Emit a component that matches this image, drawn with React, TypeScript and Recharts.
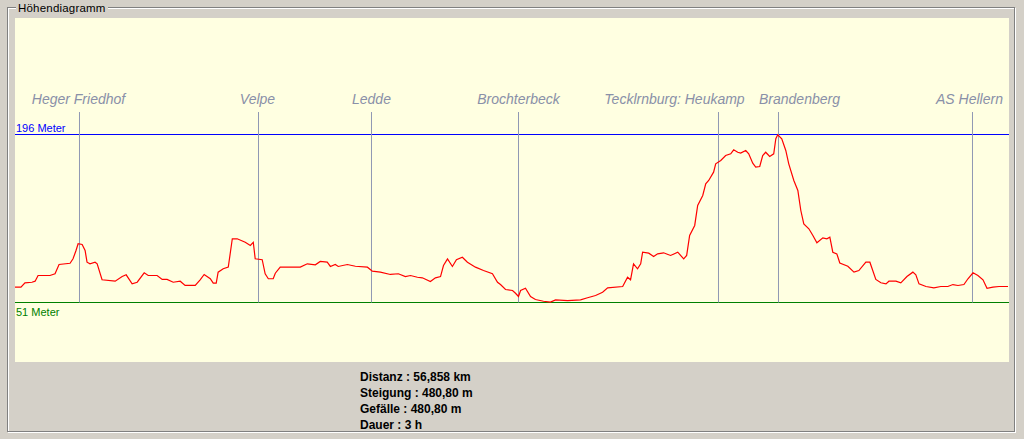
import React from 'react';
import { LineChart, Line, XAxis, YAxis, ReferenceLine } from 'recharts';

// Distance along the route (km) and elevation (m)
const distanceKm = [
  0, 0.34, 0.57, 0.97, 1.15, 1.32, 2.0, 2.29, 2.52, 3.15, 3.32, 3.49, 3.61, 3.84, 4.01, 4.12, 4.29, 4.58, 4.7, 4.98,
  5.73, 6.13, 6.36, 6.7, 6.99, 7.39, 7.62, 8.13, 8.42, 8.7, 9.05, 9.45, 9.73, 10.31, 10.59, 10.82, 11.17, 11.34, 11.51, 11.62,
  11.91, 12.2, 12.43, 12.71, 13.17, 13.46, 13.63, 13.74, 14.14, 14.31, 14.49, 14.77, 14.89, 15.17, 16.32, 16.72, 17.18, 17.46, 17.86, 18.04,
  18.32, 18.49, 19.01, 19.47, 20.16, 20.44, 20.9, 21.47, 21.93, 22.33, 22.62, 23.02, 23.3, 23.76, 24.05, 24.34, 24.51, 24.74, 25.02, 25.25,
  25.59, 25.88, 26.34, 26.8, 27.31, 27.6, 27.77, 28.06, 28.46, 28.63, 28.8, 28.92, 29.2, 29.49, 29.77, 30.23, 30.63, 30.92, 31.61, 32.35,
  32.75, 33.21, 33.61, 33.9, 34.76, 35.04, 35.21, 35.38, 35.61, 35.79, 35.9, 36.25, 36.53, 36.76, 37.1, 37.5, 37.91, 38.25, 38.42, 38.59,
  38.88, 39.05, 39.34, 39.51, 39.68, 39.96, 40.08, 40.37, 40.65, 40.94, 41.11, 41.34, 41.51, 41.8, 41.97, 42.2, 42.37, 42.6, 42.77, 42.94,
  43.17, 43.4, 43.52, 43.63, 43.86, 44.09, 44.26, 44.55, 44.78, 44.95, 45.12, 45.41, 45.64, 45.87, 46.21, 46.44, 46.61, 46.78, 47.01, 47.18,
  47.64, 47.99, 48.27, 48.67, 48.9, 49.24, 49.53, 49.82, 49.99, 50.39, 50.67, 51.02, 51.36, 51.53, 51.71, 52.11, 52.56, 52.96, 53.36, 53.65,
  53.94, 54.28, 54.51, 54.8, 55.08, 55.37, 55.6, 55.94, 56.29, 56.8,
];
const elevationM = [
  64.2, 64.2, 68.0, 68.5, 69.4, 74.3, 74.3, 75.8, 83.8, 84.9, 88.7, 95.9, 101.7, 101.1, 95.9, 85.8, 84.4, 85.8, 84.4, 70.6,
  69.4, 73.4, 74.9, 67.1, 68.5, 76.6, 74.3, 74.3, 70.9, 70.9, 68.5, 69.4, 65.7, 65.7, 70.6, 75.2, 71.5, 67.7, 67.7, 77.2,
  80.1, 81.5, 106.0, 106.0, 103.0, 100.2, 103.0, 88.7, 87.9, 75.8, 71.5, 71.5, 76.3, 81.5, 81.5, 84.4, 83.5, 86.4, 85.8, 82.1,
  83.8, 82.1, 83.8, 82.3, 81.5, 78.0, 77.2, 75.2, 75.8, 73.4, 74.3, 72.8, 72.3, 69.1, 72.3, 73.4, 82.9, 88.7, 82.1, 87.9,
  90.1, 85.8, 81.5, 78.6, 75.8, 68.5, 66.5, 62.2, 61.4, 59.0, 56.2, 61.4, 63.3, 56.2, 53.6, 52.1, 51.3, 53.3, 52.7, 53.3,
  55.1, 57.0, 59.9, 63.7, 64.8, 72.8, 70.6, 84.4, 80.1, 84.4, 94.4, 93.6, 90.7, 93.0, 93.9, 91.6, 94.4, 88.7, 91.6, 108.8,
  117.5, 134.7, 143.4, 153.5, 156.3, 163.5, 170.7, 173.6, 177.9, 179.3, 182.8, 180.7, 179.9, 182.2, 179.3, 171.2, 167.8, 168.4, 177.9, 180.7,
  177.0, 179.3, 192.3, 195.7, 192.3, 182.2, 170.7, 156.3, 147.7, 130.4, 118.9, 114.6, 108.8, 102.5, 106.8, 106.0, 107.4, 94.4, 93.0, 85.1,
  82.3, 77.2, 78.6, 85.8, 85.8, 70.9, 68.0, 67.1, 69.4, 69.4, 68.0, 73.4, 77.2, 74.9, 67.1, 64.8, 63.7, 64.8, 64.8, 66.5,
  65.7, 66.5, 71.5, 76.6, 74.3, 70.6, 63.3, 64.2, 64.8, 64.8,
];

const totalKm = 56.858;
const maxElevation = 196;
const minElevation = 51;

const waypointNames = ['Heger Friedhof', 'Velpe', 'Ledde', 'Brochterbeck', 'Tecklrnburg: Heukamp', 'Brandenberg', 'AS Hellern'];
const waypointKm = [3.689, 13.929, 20.392, 28.801, 40.241, 43.673, 54.77];
const waypointLabelShift = [-1, -1, 0, 0, -44, 21, -3];
const waypointTop = 215.4;

const statLabels = ['Distanz', 'Steigung', 'Gefälle', 'Dauer'];
const statValues = ['56,858 km', '480,80 m', '480,80 m', '3 h'];

const data = distanceKm.map((km, i) => ({ km, m: elevationM[i] }));

const FONT = '"Liberation Sans", Arial, sans-serif';

const WaypointLabel = (props: any) => {
  const vb = props.viewBox || {};
  const x = (vb.x || 0) + (vb.width || 0) / 2 + props.shift;
  return (
    <text x={x} y={(vb.y || 0) - 8} textAnchor="middle" fontFamily={FONT} fontStyle="italic" fontSize={14} fill="#8990a8">
      {props.text}
    </text>
  );
};

const LevelLabel = (props: any) => {
  const vb = props.viewBox || {};
  return (
    <text x={(vb.x || 0) + 1} y={(vb.y || 0) + props.dy} fontFamily={FONT} fontSize={11} fill={props.color}>
      {props.text}
    </text>
  );
};

export default function App() {
  return (
    <div style={{ position: 'absolute', left: 0, top: 0, width: 1024, height: 439, background: '#d4d0c8', overflow: 'hidden', fontFamily: FONT }}>
      <div style={{ position: 'absolute', left: 8, top: 8, width: 1006, height: 423, border: '1px solid #ffffff' }} />
      <div style={{ position: 'absolute', left: 7, top: 7, width: 1006, height: 423, border: '1px solid #808080' }} />
      <div style={{ position: 'absolute', left: 16, top: 1, height: 14, padding: '0 2px', background: '#d4d0c8', fontSize: 11.5, lineHeight: '14px', color: '#000', letterSpacing: 0.2 }}>
        Höhendiagramm
      </div>
      <div style={{ position: 'absolute', left: 15, top: 18, width: 994, height: 344, background: '#ffffe1' }}>
        <LineChart width={994} height={344} data={data} margin={{ top: 0, right: 0, bottom: 0, left: 0 }}>
          <XAxis type="number" dataKey="km" domain={[0, totalKm]} hide allowDataOverflow />
          <YAxis type="number" domain={[-0.35, 296.55]} hide allowDataOverflow />
          <ReferenceLine
            y={maxElevation}
            stroke="#0000ff"
            strokeWidth={1}
            ifOverflow="visible"
            label={<LevelLabel text={`${maxElevation} Meter`} dy={-3} color="#0000ff" />}
          />
          <ReferenceLine
            y={minElevation}
            stroke="#008000"
            strokeWidth={1}
            ifOverflow="visible"
            label={<LevelLabel text={`${minElevation} Meter`} dy={13} color="#008000" />}
          />
          {waypointKm.map((km, i) => (
            <ReferenceLine
              key={waypointNames[i]}
              segment={[{ x: km, y: minElevation }, { x: km, y: waypointTop }]}
              stroke="#9098b4"
              strokeWidth={1}
              ifOverflow="visible"
              label={<WaypointLabel text={waypointNames[i]} shift={waypointLabelShift[i]} />}
            />
          ))}
          <Line type="linear" dataKey="m" stroke="#ff0000" strokeWidth={1.2} dot={false} isAnimationActive={false} />
        </LineChart>
      </div>
      {statLabels.map((label, i) => (
        <div
          key={label}
          style={{ position: 'absolute', left: 360, top: 369 + i * 16, fontSize: 12, lineHeight: '16px', fontWeight: 'bold', color: '#000', whiteSpace: 'nowrap' }}
        >
          {`${label} : ${statValues[i]}`}
        </div>
      ))}
    </div>
  );
}
